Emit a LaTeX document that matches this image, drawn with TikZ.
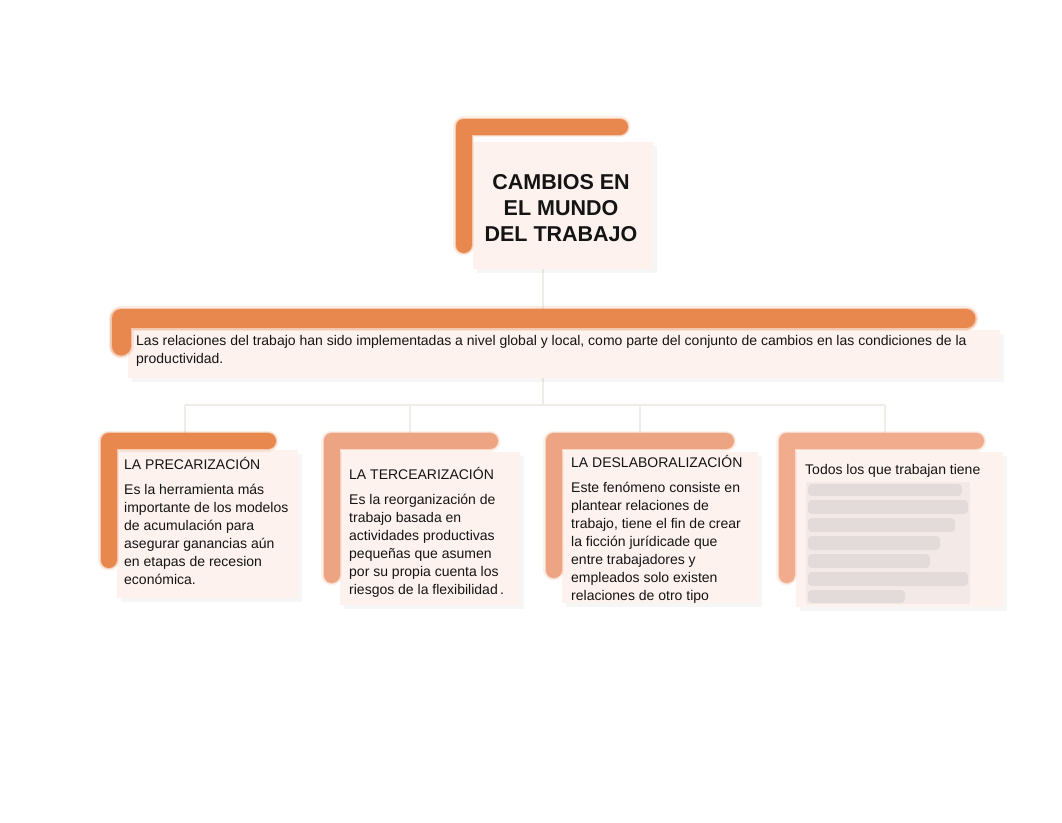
\documentclass[tikz,border=0pt]{standalone}
\usepackage{fontspec}
\setmainfont{Liberation Sans}
\usetikzlibrary{shadows}
\definecolor{orA}{HTML}{E8854A}
\definecolor{orB}{HTML}{EDA27F}
\definecolor{orC}{HTML}{F0AA8A}
\definecolor{pale}{HTML}{FDF2EE}
\definecolor{conn}{HTML}{F0EDE8}
\definecolor{txt}{HTML}{141414}
\definecolor{blurg}{HTML}{DCD6D4}
\tikzset{
  palebox/.style={fill=pale, draw=none, drop shadow={opacity=0.07, shadow xshift=4pt, shadow yshift=-4pt}},
  orbar/.style={line width=16pt, line cap=round, line join=round, draw opacity=0.95},
  orglowa/.style={line width=18pt, line cap=round, line join=round, draw opacity=0.35},
  orglowb/.style={line width=21pt, line cap=round, line join=round, draw opacity=0.15},
  connector/.style={draw=conn, line width=1.5pt},
  bodytext/.style={font=\fontsize{14}{18}\selectfont, text=txt, align=left, inner sep=0pt, anchor=north west},
  titletext/.style={font=\fontsize{14}{18}\selectfont, text=txt, inner sep=0pt, anchor=north west},
  blurbar/.style={fill=blurg, draw=none, opacity=0.7, rounded corners=4pt}
}
\begin{document}
\begin{tikzpicture}[x=1pt,y=-1pt]
\useasboundingbox (0,0) rectangle (1062,822);
\fill[white] (0,0) rectangle (1062,822);

% connectors
\coordinate (c0) at (543,262);
\coordinate (c1) at (543,312);
\coordinate (c2) at (543,378);
\coordinate (h) at (543,405);
\coordinate (hl) at (185,405);
\coordinate (hr) at (885,405);
\coordinate (j2) at (410,405);
\coordinate (j3) at (640,405);
\coordinate (d1) at (185,436);
\coordinate (d2) at (410,436);
\coordinate (d3) at (640,436);
\coordinate (d4) at (885,436);
\draw[connector] (c0) -- (c1);
\draw[connector] (c2) -- (h);
\draw[connector] (hl) -- (hr);
\draw[connector] (hl) -- (d1);
\draw[connector] (j2) -- (d2);
\draw[connector] (j3) -- (d3);
\draw[connector] (hr) -- (d4);

% top box
\node[palebox, minimum width=180pt, minimum height=127pt, anchor=north west, inner sep=0pt] (topbox) at (473,142) {};
\draw[orglowb, draw=orA] (463.5,245) -- (463.5,126.5) -- (620,126.5);
\draw[orglowa, draw=orA] (463.5,245) -- (463.5,126.5) -- (620,126.5);
\draw[orbar, draw=orA] (463.5,245) -- (463.5,126.5) -- (620,126.5);
\node[font=\fontsize{21.5}{26}\selectfont\bfseries, text=txt, align=center, inner sep=0pt] (title) at (561,208) {CAMBIOS EN\\EL MUNDO\\DEL TRABAJO};

% wide box
\node[palebox, minimum width=872pt, minimum height=48pt, anchor=north west, inner sep=0pt] (wide) at (128,330) {};
\draw[orglowb, draw=orA, line width=25pt] (121,346) -- (121,318.5) -- (966,318.5);
\draw[orglowa, draw=orA, line width=22pt] (121,346) -- (121,318.5) -- (966,318.5);
\draw[orbar, draw=orA, line width=19pt] (121,346) -- (121,318.5) -- (966,318.5);
\node[bodytext] (widetext) at (136,335.5) {Las relaciones del trabajo han sido implementadas a nivel global y local, como parte del conjunto de cambios en las condiciones de la\\productividad.};

% box 1
\node[palebox, minimum width=181pt, minimum height=148pt, anchor=north west, inner sep=0pt] (b1) at (117,450) {};
\draw[orglowb, draw=orA] (108.5,560) -- (108.5,441) -- (268,441);
\draw[orglowa, draw=orA] (108.5,560) -- (108.5,441) -- (268,441);
\draw[orbar, draw=orA] (108.5,560) -- (108.5,441) -- (268,441);
\node[titletext] (t1) at (124,457) {LA PRECARIZACIÓN};
\node[bodytext] (x1) at (124,483.5) {Es la herramienta más\\importante de los modelos\\de acumulación para\\asegurar ganancias aún\\en etapas de recesion\\económica.};

% box 2
\node[palebox, minimum width=180pt, minimum height=153pt, anchor=north west, inner sep=0pt] (b2) at (340,452) {};
\draw[orglowb, draw=orB] (331.5,575) -- (331.5,441) -- (490,441);
\draw[orglowa, draw=orB] (331.5,575) -- (331.5,441) -- (490,441);
\draw[orbar, draw=orB] (331.5,575) -- (331.5,441) -- (490,441);
\node[titletext] (t2) at (349,467) {LA TERCEARIZACIÓN};
\node[bodytext] (x2) at (349,493.5) {Es la reorganización de\\trabajo basada en\\actividades productivas\\pequeñas que asumen\\por su propia cuenta los\\riesgos de la flexibilidad\,.};

% box 3
\node[palebox, minimum width=196pt, minimum height=151pt, anchor=north west, inner sep=0pt] (b3) at (562,452) {};
\draw[orglowb, draw=orB] (553.5,570) -- (553.5,441) -- (726,441);
\draw[orglowa, draw=orB] (553.5,570) -- (553.5,441) -- (726,441);
\draw[orbar, draw=orB] (553.5,570) -- (553.5,441) -- (726,441);
\node[titletext] (t3) at (571,455) {LA DESLABORALIZACIÓN};
\node[bodytext] (x3) at (571,481.5) {Este fenómeno consiste en\\plantear relaciones de\\trabajo, tiene el fin de crear\\la ficción jurídicade que\\entre trabajadores y\\empleados solo existen\\relaciones de otro tipo};

% box 4
\node[palebox, minimum width=207pt, minimum height=155pt, anchor=north west, inner sep=0pt] (b4) at (796,452) {};
\draw[orglowb, draw=orC] (786.5,575) -- (786.5,441) -- (976,441);
\draw[orglowa, draw=orC] (786.5,575) -- (786.5,441) -- (976,441);
\draw[orbar, draw=orC] (786.5,575) -- (786.5,441) -- (976,441);
\node[titletext] (t4) at (805,464.5) {Todos los que trabajan tiene};
\fill[blurg, opacity=0.3] (806,482) rectangle (970,604);
\fill[blurbar] (808,484) rectangle (962,496);
\fill[blurbar] (808,500) rectangle (968,514);
\fill[blurbar] (808,518) rectangle (955,532);
\fill[blurbar] (808,536) rectangle (940,550);
\fill[blurbar] (808,554) rectangle (930,568);
\fill[blurbar] (808,572) rectangle (968,586);
\fill[blurbar] (808,590) rectangle (905,603);
\end{tikzpicture}
\end{document}
